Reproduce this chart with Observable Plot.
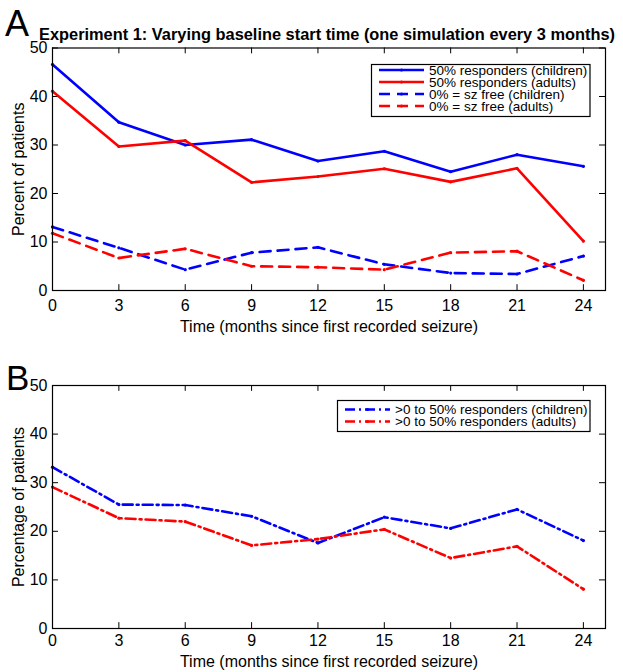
<!DOCTYPE html>
<html>
<head>
<meta charset="utf-8">
<script src="https://cdn.jsdelivr.net/npm/d3@7"></script>
<script src="https://cdn.jsdelivr.net/npm/@observablehq/plot@0.6"></script>
<style>
  html, body { margin: 0; padding: 0; background: #fff; }
  #root { position: relative; width: 623px; height: 672px; background: #fff; overflow: hidden; font-family: "Liberation Sans", Arial, Helvetica, sans-serif; }
  #root > svg, #root > div { position: absolute; left: 0; }
</style>
</head>
<body>
<div id="root"></div>
<script>
// ---- data ----
const months = [0, 3, 6, 9, 12, 15, 18, 21, 24];
const yTicks = [0, 10, 20, 30, 40, 50];

const childResp50 = [46.6, 34.7, 30.0, 31.1, 26.7, 28.7, 24.5, 28.0, 25.6];
const adultResp50 = [41.1, 29.7, 30.9, 22.3, 23.5, 25.1, 22.4, 25.2, 10.2];
const childSzFree = [13.1, 8.8, 4.3, 7.8, 8.9, 5.4, 3.6, 3.4, 7.1];
const adultSzFree = [11.8, 6.7, 8.6, 5.0, 4.8, 4.3, 7.8, 8.1, 2.1];
const childPartial = [33.2, 25.5, 25.4, 23.1, 17.6, 22.9, 20.6, 24.5, 18.1];
const adultPartial = [29.1, 22.7, 22.0, 17.1, 18.4, 20.4, 14.5, 16.9, 8.1];

const namesA = ["50% responders (children)", "50% responders (adults)", "0% = sz free (children)", "0% = sz free (adults)"];
const namesB = [">0 to 50% responders (children)", ">0 to 50% responders (adults)"];

const titleA = "Experiment 1: Varying baseline start time (one simulation every 3 months)";
const xLabel = "Time (months since first recorded seizure)";
const yLabelA = "Percent of patients";
const yLabelB = "Percentage of patients";

// ---- styles ----
const BLUE = "#0000ff", RED = "#ff0000";
const DASH = "11,7";
const DASHDOT = "10,4,2,4";

const seriesA = [
  {name: namesA[0], values: childResp50, color: BLUE, dash: null},
  {name: namesA[1], values: adultResp50, color: RED, dash: null},
  {name: namesA[2], values: childSzFree, color: BLUE, dash: DASH},
  {name: namesA[3], values: adultSzFree, color: RED, dash: DASH}
];
const seriesB = [
  {name: namesB[0], values: childPartial, color: BLUE, dash: DASHDOT},
  {name: namesB[1], values: adultPartial, color: RED, dash: DASHDOT}
];

function panel(series, yLabel, height, marginTop, marginBottom, tickPad, labelOff) {
  const marks = [
    Plot.axisX(months, {tickSize: 0, tickPadding: tickPad, fontSize: 16, label: xLabel, labelAnchor: "center", labelArrow: "none", labelOffset: labelOff}),
    Plot.axisY(yTicks, {tickSize: 0, tickPadding: 5, fontSize: 16, label: yLabel, labelAnchor: "center", labelArrow: "none", labelOffset: 40}),
    Plot.ruleX(months, {x: d => d, y1: 0, y2: 1.2, stroke: "black"}),
    Plot.ruleX(months, {x: d => d, y1: 50, y2: 48.8, stroke: "black"}),
    Plot.ruleY(yTicks, {y: d => d, x1: 0, x2: 0.27, stroke: "black"}),
    Plot.ruleY(yTicks, {y: d => d, x1: 25, x2: 24.73, stroke: "black"})
  ];
  for (const s of series) {
    marks.push(Plot.line(months, {x: d => d, y: (d, i) => s.values[i], stroke: s.color, strokeWidth: 2.6, strokeDasharray: s.dash, strokeLinejoin: "miter"}));
    marks.push(Plot.dot(months, {x: d => d, y: (d, i) => s.values[i], fill: s.color, r: 1.6}));
  }
  marks.push(Plot.frame({stroke: "black", strokeWidth: 1.2}));
  return Plot.plot({
    width: 623, height,
    marginLeft: 52, marginRight: 18, marginTop, marginBottom,
    x: {domain: [0, 25]},
    y: {domain: [0, 50]},
    style: {fontFamily: "'Liberation Sans', Arial, Helvetica, sans-serif", fontSize: "16px", color: "black", background: "white"},
    marks
  });
}

const root = document.getElementById("root");
const pA = panel(seriesA, yLabelA, 345, 47.5, 55, 9, 41);
pA.style.top = "0px";
root.appendChild(pA);
const pB = panel(seriesB, yLabelB, 332, 45, 44, 6, 38);
pB.style.top = "340px";
root.appendChild(pB);

// ---- overlay: panel letters, title, legends ----
const ov = d3.select(root).append("svg")
  .attr("width", 623).attr("height", 672)
  .style("top", "0px").style("pointer-events", "none")
  .style("font-family", "'Liberation Sans', Arial, Helvetica, sans-serif");

ov.append("text").attr("x", 5).attr("y", 36).attr("font-size", 36).text("A");
ov.append("text").attr("x", 6).attr("y", 390).attr("font-size", 35).text("B");
ov.append("text").attr("x", 327).attr("y", 40).attr("text-anchor", "middle")
  .attr("font-size", 17).attr("font-weight", "bold")
  .attr("textLength", 576).attr("lengthAdjust", "spacingAndGlyphs").text(titleA);

function legend(series, box, rowY, lineX0, lineX1, textX, fontSize) {
  const g = ov.append("g");
  g.append("rect").attr("x", box[0]).attr("y", box[1]).attr("width", box[2]).attr("height", box[3])
    .attr("fill", "white").attr("stroke", "black").attr("stroke-width", 1.2);
  series.forEach((s, i) => {
    const y = rowY[i];
    g.append("line").attr("x1", lineX0).attr("x2", lineX1).attr("y1", y).attr("y2", y)
      .attr("stroke", s.color).attr("stroke-width", 2.6).attr("stroke-dasharray", s.dash);
    g.append("circle").attr("cx", (lineX0 + lineX1) / 2).attr("cy", y).attr("r", 1.6).attr("fill", s.color);
    g.append("text").attr("x", textX).attr("y", y).attr("dy", "0.36em").attr("font-size", fontSize).text(s.name);
  });
}
legend(seriesA, [371.5, 64.5, 218.5, 52], [70, 82, 94, 106], 379, 424, 429, 13.5);
legend(seriesB, [337.5, 400.5, 252.5, 31], [409.5, 421.5], 345, 390, 395, 13.5);
</script>
</body>
</html>
